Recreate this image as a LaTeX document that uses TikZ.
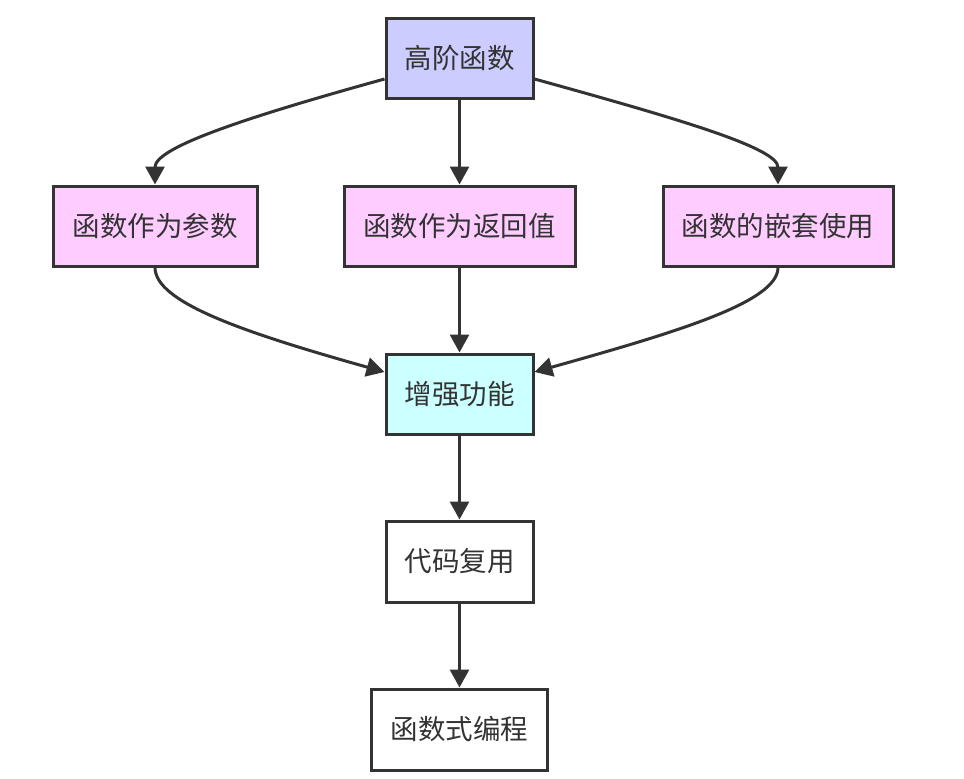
\documentclass[tikz,border=0pt]{standalone}
\usepackage{fontspec}
\setmainfont{Noto Sans CJK SC}
\usetikzlibrary{arrows.meta}
\definecolor{edgec}{HTML}{333333}
\definecolor{lav}{HTML}{CCCCFF}
\definecolor{pinkc}{HTML}{FFCCFF}
\definecolor{cyanc}{HTML}{CCFFFF}
\begin{document}
\begin{tikzpicture}[x=1pt,y=-1pt,
  box/.style={draw=edgec, line width=3pt, minimum height=80pt, inner sep=0pt,
    font=\fontsize{27.5}{32}\selectfont, text=edgec},
  conn/.style={draw=edgec, line width=3pt, -{Triangle[length=18pt,width=19pt]}}]
\useasboundingbox (0,0) rectangle (964,779);
\node[box, fill=lav, minimum width=147pt] (A) at (459.5,58) {高阶函数};
\node[box, fill=pinkc, minimum width=204pt] (B) at (155,226) {函数作为参数};
\node[box, fill=pinkc, minimum width=231pt] (C) at (459.5,226) {函数作为返回值};
\node[box, fill=pinkc, minimum width=230pt] (D) at (778,226) {函数的嵌套使用};
\node[box, fill=cyanc, minimum width=147pt] (E) at (459.5,394) {增强功能};
\node[box, fill=white, minimum width=147pt, minimum height=81pt] (F) at (459.5,561.5) {代码复用};
\node[box, fill=white, minimum width=176pt, minimum height=81pt] (G) at (459.5,729.5) {函数式编程};

\draw[conn] ([yshift=-21pt]A.west) .. controls (240,119) and (155,148) .. (B.north);
\draw[conn] (A.south) -- (C.north);
\draw[conn] ([yshift=-21pt]A.east) .. controls (679,119) and (778,148) .. (D.north);
\draw[conn] (B.south) .. controls (155,302) and (242,332) .. ([yshift=22pt]E.west);
\draw[conn] (C.south) -- (E.north);
\draw[conn] (D.south) .. controls (778,302) and (677,332) .. ([yshift=22pt]E.east);
\draw[conn] (E.south) -- (F.north);
\draw[conn] (F.south) -- (G.north);
\end{tikzpicture}
\end{document}
